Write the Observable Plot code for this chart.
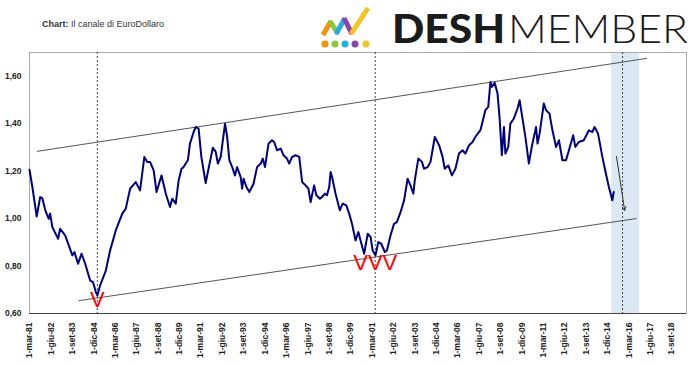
<!DOCTYPE html>
<html><head><meta charset="utf-8">
<script src="https://cdn.jsdelivr.net/npm/d3@7"></script>
<script src="https://cdn.jsdelivr.net/npm/@observablehq/plot@0.6"></script>
<style>body{margin:0;background:#fff}#wrap{position:relative;width:700px;height:366px}</style>
</head><body><div id="wrap"></div>
<script>
// ---- data ----
const dates = ["1981-03-01","1981-05-01","1981-08-01","1981-10-15","1981-12-01","1982-02-01","1982-04-15","1982-05-15","1982-07-01","1982-11-01","1982-12-15","1983-04-01","1983-09-01","1983-10-15","1984-01-01","1984-03-15","1984-06-01","1984-09-15","1984-11-15","1985-01-15","1985-02-15","1985-04-15","1985-08-15","1985-11-15","1986-03-15","1986-08-01","1986-10-15","1987-01-15","1987-05-15","1987-08-15","1987-11-15","1988-01-15","1988-03-15","1988-06-01","1988-08-01","1988-11-15","1989-02-15","1989-05-15","1989-07-01","1989-09-15","1989-11-15","1990-01-15","1990-03-01","1990-04-15","1990-06-01","1990-07-15","1990-10-01","1990-11-15","1991-01-15","1991-03-15","1991-06-15","1991-08-15","1991-11-15","1992-01-15","1992-03-01","1992-05-01","1992-08-01","1992-09-15","1992-11-01","1993-01-01","1993-03-01","1993-04-15","1993-07-01","1993-08-01","1993-09-01","1993-11-01","1994-01-01","1994-04-01","1994-06-15","1994-09-01","1994-10-15","1994-12-01","1995-02-15","1995-05-01","1995-06-15","1995-08-15","1995-11-01","1996-01-01","1996-03-15","1996-05-01","1996-07-01","1996-09-15","1996-12-01","1997-02-01","1997-04-15","1997-06-15","1997-08-01","1997-10-15","1997-12-01","1998-02-15","1998-04-01","1998-06-01","1998-07-15","1998-09-01","1998-10-01","1998-11-01","1999-01-15","1999-04-15","1999-06-15","1999-09-01","1999-11-01","2000-01-01","2000-03-15","2000-05-15","2000-07-01","2000-09-15","2000-12-01","2001-02-01","2001-03-15","2001-05-15","2001-07-15","2001-09-15","2001-12-01","2002-01-15","2002-04-01","2002-06-15","2002-08-15","2002-11-01","2003-01-15","2003-04-01","2003-06-01","2003-08-01","2003-09-01","2003-11-15","2004-02-01","2004-03-15","2004-06-01","2004-08-01","2004-11-01","2005-02-01","2005-04-15","2005-06-01","2005-08-15","2005-11-01","2006-01-15","2006-04-01","2006-06-15","2006-08-15","2006-11-01","2007-01-15","2007-03-15","2007-06-01","2007-07-01","2007-08-15","2007-10-15","2007-12-15","2008-02-01","2008-03-01","2008-05-01","2008-07-01","2008-08-15","2008-10-01","2008-11-15","2008-12-15","2009-02-15","2009-04-01","2009-06-15","2009-09-01","2009-10-15","2009-12-15","2010-02-15","2010-05-01","2010-07-01","2010-08-15","2010-10-01","2010-11-01","2010-12-15","2011-03-15","2011-05-01","2011-07-15","2011-09-15","2011-12-01","2012-02-01","2012-04-15","2012-07-01","2012-09-01","2012-12-01","2013-01-15","2013-04-01","2013-07-15","2013-11-01","2014-01-15","2014-03-01","2014-05-15","2014-08-15","2014-10-15","2015-01-01","2015-03-15","2015-04-15"];
const values = [1.206,1.133,1.009,1.091,1.085,1.035,0.999,1.021,0.964,0.915,0.957,0.929,0.845,0.859,0.810,0.852,0.810,0.739,0.732,0.690,0.676,0.718,0.781,0.866,0.950,1.021,1.042,1.126,1.154,1.119,1.260,1.239,1.239,1.203,1.112,1.182,1.105,1.049,1.084,1.063,1.161,1.210,1.217,1.232,1.246,1.316,1.365,1.386,1.379,1.260,1.150,1.210,1.299,1.281,1.232,1.260,1.400,1.344,1.246,1.217,1.182,1.217,1.175,1.126,1.168,1.133,1.112,1.147,1.217,1.232,1.253,1.217,1.316,1.330,1.323,1.288,1.295,1.267,1.253,1.232,1.260,1.267,1.260,1.154,1.140,1.126,1.070,1.140,1.098,1.084,1.091,1.105,1.098,1.133,1.196,1.175,1.105,1.035,1.063,1.056,1.021,0.978,0.908,0.943,0.908,0.852,0.936,0.922,0.866,0.845,0.901,0.894,0.859,0.866,0.929,0.978,0.985,1.027,1.077,1.168,1.140,1.105,1.161,1.253,1.239,1.210,1.217,1.239,1.344,1.309,1.260,1.210,1.224,1.182,1.210,1.274,1.288,1.274,1.309,1.323,1.344,1.365,1.372,1.407,1.457,1.470,1.576,1.555,1.572,1.527,1.422,1.267,1.386,1.274,1.302,1.400,1.422,1.464,1.499,1.422,1.344,1.232,1.302,1.344,1.386,1.316,1.358,1.485,1.457,1.442,1.372,1.302,1.330,1.246,1.246,1.288,1.351,1.302,1.323,1.330,1.372,1.365,1.386,1.358,1.260,1.203,1.133,1.077,1.112];

const mesi = ["gen","feb","mar","apr","mag","giu","lug","ago","set","ott","nov","dic"];
const xTicks = ["1981-03-01","1982-06-01","1983-09-01","1984-12-01","1986-03-01","1987-06-01","1988-09-01","1989-12-01","1991-03-01","1992-06-01","1993-09-01","1994-12-01","1996-03-01","1997-06-01","1998-09-01","1999-12-01","2001-03-01","2002-06-01","2003-09-01","2004-12-01","2006-03-01","2007-06-01","2008-09-01","2009-12-01","2011-03-01","2012-06-01","2013-09-01","2014-12-01","2016-03-01","2017-06-01","2018-09-01"];
const yTicks = [0.6, 0.8, 1.0, 1.2, 1.4, 1.6];
const xDomain = ["1981-03-01","2019-07-15"];
const yDomain = [0.6, 1.7];

const dashedDates = ["1985-02-15","2001-05-10","2015-10-20"];
const bandDates = ["2015-03-01","2016-10-20"];
const upperDates = ["1981-08-12","2017-03-15"];
const upperValues = [1.2835, 1.675];
const lowerDates = ["1984-01-18","2016-08-07"];
const lowerValues = [0.654, 1.0];
const vDates = ["1985-02-15","2001-05-10"];
const vValues = [0.655, 0.811];
const vLabels = ["V", "VVV"];
const arrowDates = ["2015-06-12","2015-12-03"];
const arrowValues = [1.262, 1.035];

// ---- build ----
const P = d3.utcParse("%Y-%m-%d");
const series = dates.map((d,i)=>({date:P(d), value:values[i]}));
const upper = upperDates.map((d,i)=>({date:P(d), value:upperValues[i]}));
const lower = lowerDates.map((d,i)=>({date:P(d), value:lowerValues[i]}));
const vs = vDates.map((d,i)=>({date:P(d), value:vValues[i], label:vLabels[i]}));
const fmtX = d => `${d.getUTCDate()}-${mesi[d.getUTCMonth()]}-${String(d.getUTCFullYear()).slice(2)}`;
const fmtY = v => v.toFixed(2).replace(".", ",");

const chart = Plot.plot({
  width: 700, height: 366,
  marginTop: 52, marginBottom: 53, marginLeft: 29, marginRight: 14,
  style: {fontFamily: "'Liberation Sans', Arial, sans-serif", fontSize: "8.5px", fontWeight: "bold", color: "#222", background: "#fff"},
  x: {type: "utc", domain: xDomain.map(P)},
  y: {domain: yDomain},
  marks: [
    Plot.rect([{x1: P(bandDates[0]), x2: P(bandDates[1])}], {x1: "x1", x2: "x2", fill: "#dce9f5"}),
    Plot.frame({stroke: "#aaa"}),
    Plot.ruleX(dashedDates.map(P), {stroke: "#444", strokeDasharray: "2,2", strokeWidth: 1}),
    Plot.line(upper, {x: "date", y: "value", stroke: "#555", strokeWidth: 1}),
    Plot.line(lower, {x: "date", y: "value", stroke: "#555", strokeWidth: 1}),
    Plot.line(series, {x: "date", y: "value", stroke: "#00007f", strokeWidth: 2, curve: "linear"}),
    Plot.text(vs, {x: "date", y: "value", text: "label", fill: "#ff0000", fontSize: 22, fontWeight: "normal", lineAnchor: "middle"}),
    Plot.arrow([{x1: P(arrowDates[0]), y1: arrowValues[0], x2: P(arrowDates[1]), y2: arrowValues[1]}],
      {x1: "x1", y1: "y1", x2: "x2", y2: "y2", stroke: "#333", strokeWidth: 1, headLength: 6}),
    Plot.ruleY([yDomain[0]], {stroke: "#444"}),
    Plot.axisX({ticks: xTicks.map(P), tickFormat: fmtX, tickRotate: -90, tickSize: 0, tickPadding: 9, label: null}),
    Plot.axisY({ticks: yTicks, tickFormat: fmtY, tickSize: 0, tickPadding: 8, label: null})
  ]
});
const wrap = document.getElementById("wrap");
wrap.appendChild(chart);

const ns = "http://www.w3.org/2000/svg";
const over = document.createElementNS(ns, "svg");
over.setAttribute("width", 700); over.setAttribute("height", 60);
over.setAttribute("style", "position:absolute;left:0;top:0;overflow:visible");
over.innerHTML = `
 <text x="42" y="27" font-family="'Liberation Sans', Arial, sans-serif" font-size="9" fill="#333"><tspan font-weight="bold">Chart:</tspan> Il canale di EuroDollaro</text>
 <g stroke-width="5" stroke-linecap="butt" fill="none">
  <line x1="323" y1="35" x2="331" y2="21" stroke="#f39200"/>
  <line x1="330" y1="21" x2="338" y2="34" stroke="#8cc63f"/>
  <line x1="336" y1="34" x2="345" y2="18" stroke="#29abe2"/>
  <line x1="344" y1="18" x2="352" y2="34" stroke="#8e44ad"/>
  <line x1="351" y1="34" x2="368" y2="8" stroke="#f7c21e"/>
 </g>
 <circle cx="325" cy="44" r="3.5" fill="#f39200"/>
 <circle cx="335" cy="44" r="3.5" fill="#8cc63f"/>
 <circle cx="345" cy="44" r="3.5" fill="#29abe2"/>
 <circle cx="355" cy="44" r="3.5" fill="#8e44ad"/>
 <circle cx="366" cy="44" r="3.5" fill="#f7c21e"/>
 <text x="392" y="43" font-family="Lato, 'Open Sans', sans-serif" font-weight="900" font-size="40" fill="#1b1b1b" textLength="113" lengthAdjust="spacingAndGlyphs">DESH</text>
 <text x="508" y="43" font-family="Lato, 'Open Sans', sans-serif" font-weight="300" font-size="40" fill="#1b1b1b" textLength="180" lengthAdjust="spacingAndGlyphs">MEMBER</text>`;
wrap.appendChild(over);
</script></body></html>
